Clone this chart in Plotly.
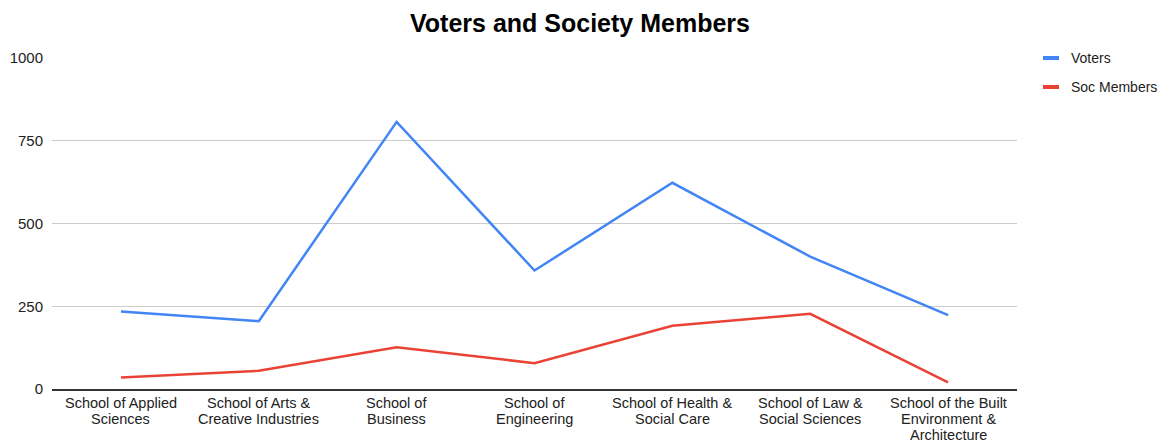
import plotly.graph_objects as go

schools = [
    "School of Applied<br>Sciences",
    "School of Arts &<br>Creative Industries",
    "School of<br>Business",
    "School of<br>Engineering",
    "School of Health &<br>Social Care",
    "School of Law &<br>Social Sciences",
    "School of the Built<br>Environment &<br>Architecture",
]
voters = [234, 205, 807, 358, 623, 400, 223]
soc_members = [35, 55, 126, 78, 191, 227, 20]

W, H = 1173, 443
L, R, T, B = 52, 1017, 58, 389
FONT = "Arial, Liberation Sans, sans-serif"

fig = go.Figure()
fig.add_trace(go.Scatter(x=schools, y=voters, mode="lines", name="Voters",
                         line=dict(color="#4285F4", width=2.5)))
fig.add_trace(go.Scatter(x=schools, y=soc_members, mode="lines", name="Soc Members",
                         line=dict(color="#EA4335", width=2.5)))

def px(x):
    return (x - L) / (R - L)

def py(y):
    return (B - y) / (B - T)

shapes = []
annotations = []
for name, col, yy in [("Voters", "#4285F4", 58), ("Soc Members", "#EA4335", 87)]:
    shapes.append(dict(type="line", xref="paper", yref="paper", x0=px(1043), x1=px(1059),
                       y0=py(yy), y1=py(yy), line=dict(color=col, width=4)))
    annotations.append(dict(text=name, xref="paper", yref="paper", x=px(1069), y=py(yy),
                            xanchor="left", yanchor="middle", showarrow=False,
                            font=dict(size=14, color="#222222", family=FONT)))

# category labels, one annotation per line for tight line spacing
line_y = [403, 419, 435]
for cat in schools:
    for j, part in enumerate(cat.split("<br>")):
        annotations.append(dict(text=part, xref="x", yref="paper", x=cat, y=py(line_y[j]),
                                xanchor="center", yanchor="middle", showarrow=False,
                                height=16, borderpad=0,
                                font=dict(size=14.5, color="#222222", family=FONT)))

fig.update_layout(
    width=W, height=H,
    margin=dict(l=L, r=W - R, t=T, b=H - B, autoexpand=False),
    paper_bgcolor="white", plot_bgcolor="white",
    showlegend=False,
    title=dict(text="<b>Voters and Society Members</b>", x=580 / W, xanchor="center",
               y=1 - 23 / H, yanchor="middle",
               font=dict(size=25, color="#000000", family=FONT)),
    font=dict(family=FONT, size=15, color="#222222"),
    shapes=shapes, annotations=annotations,
    xaxis=dict(showgrid=False, showline=True, linecolor="#333333", linewidth=1.5,
               ticks="", showticklabels=False, range=[-0.5, 6.5], automargin=False),
    yaxis=dict(range=[0, 1000], tickvals=[0, 250, 500, 750, 1000],
               showgrid=True, gridcolor="#cccccc", gridwidth=1, zeroline=False,
               ticks="", ticklabelstandoff=8, automargin=False,
               tickfont=dict(size=15, color="#222222")),
)

fig.write_html("out.html")
